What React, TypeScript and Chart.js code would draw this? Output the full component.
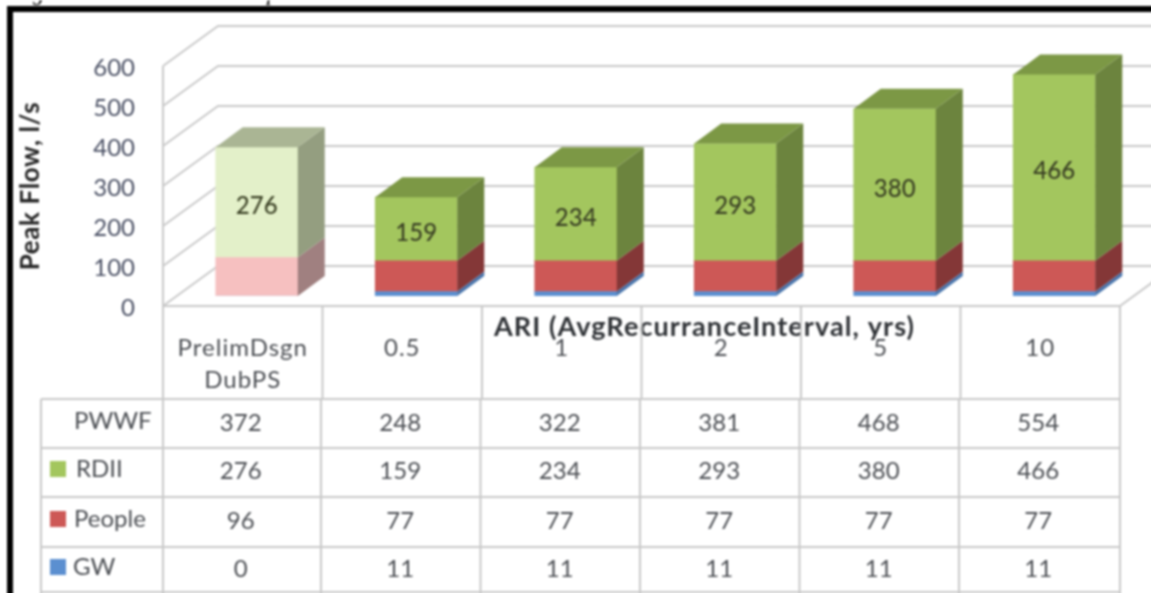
import React, { useEffect, useRef } from "react";
import { Chart, registerables } from "chart.js";

Chart.register(...registerables);

const categories: (string | string[])[] = [["PrelimDsgn", "DubPS"], "0.5", "1", "2", "5", "10"];
const pwwf = [372, 248, 322, 381, 468, 554];
const rdii = [276, 159, 234, 293, 380, 466];
const people = [96, 77, 77, 77, 77, 77];
const gw = [0, 11, 11, 11, 11, 11];
const yAxisTitle = "Peak Flow, l/s";
const xAxisTitle = "ARI (AvgRecurranceInterval, yrs)";

const FONT = 'Lato, sans-serif';
const GRID = "#c9c9c9";
const TEXT = "#4c4f54";
// the canvas overhangs the page by this much so the soft-focus filter does not fade its edges
const BLEED = 4;

const green = { front: "#a3c65e", top: "#7c9845", side: "#6c843e" };
const red = { front: "#cd5856", top: "#9c4341", side: "#843737" };
const blue = { front: "#5b8fd0", top: "#4a76ad", side: "#4a76ad" };
const greenFaded = { front: "#e3f0c9", top: "#aab594", side: "#949e80" };
const redFaded = { front: "#f6c0c0", top: "#b89090", side: "#a08080" };
const blueFaded = { front: "#c0d4ee", top: "#a0b0c4", side: "#a0b0c4" };

const DEPTH_X = 27;
const DEPTH_Y = 20;

const threeD = {
  id: "threeD",
  beforeDraw(chart: any) {
    const { ctx, canvas } = chart;
    const xs = chart.scales.x;
    const ys = chart.scales.y;
    if (!ys.__wrapped) {
      ys.__wrapped = true;
      const shift = (s: any, name: string, dx: number, dy: number, spacing: string) => {
        const orig = s[name].bind(s);
        s[name] = (a: any) => {
          s.ctx.save();
          s.ctx.translate(dx, dy);
          s.ctx.letterSpacing = spacing;
          orig(a);
          s.ctx.restore();
        };
      };
      shift(ys, "drawLabels", 0, 12, "0px");
      shift(ys, "drawTitle", 0, 10, "0.6px");
      shift(xs, "drawLabels", -14, 0, "1px");
      shift(xs, "drawTitle", 49, 0, "1.1px");
    }
    ctx.save();
    ctx.fillStyle = "#fff";
    ctx.fillRect(0, 0, canvas.width, canvas.height);
    // frame and the bottoms of the cut-off caption above it
    ctx.fillStyle = "#000";
    ctx.fillRect(7, 6, 1148, 6);
    ctx.fillRect(7, 6, 6, 591);
    ctx.font = 'italic 22px "Liberation Serif", serif';
    ctx.textBaseline = "alphabetic";
    ctx.textAlign = "left";
    ctx.fillText("g", 33, 0);
    ctx.fillText("p", 267, 0);
    ctx.restore();
  },
  beforeDatasetsDraw(chart: any) {
    const { ctx, chartArea } = chart;
    const ys = chart.scales.y;
    const xs = chart.scales.x;
    const dxFront = -14;
    const dyFront = 10;
    const dxBack = 41;
    const dyBack = -30;
    const left = chartArea.left;
    ctx.save();
    ctx.strokeStyle = GRID;
    ctx.lineWidth = 2;
    ctx.beginPath();
    ys.ticks.forEach((t: any) => {
      const y = ys.getPixelForValue(t.value);
      ctx.moveTo(left + dxFront, y + dyFront);
      ctx.lineTo(left + dxBack, y + dyBack);
      ctx.lineTo(chart.width, y + dyBack);
    });
    const y0 = ys.getPixelForValue(0);
    const yTop = ys.getPixelForValue(600);
    ctx.moveTo(left + dxFront, yTop + dyFront);
    ctx.lineTo(left + dxFront, y0 + dyFront);
    ctx.lineTo(chartArea.right + dxFront, y0 + dyFront);
    ctx.lineTo(chartArea.right + dxBack, y0 + dyBack);
    ctx.stroke();

    // table grid
    const band = (chartArea.right - chartArea.left) / categories.length;
    const colEdge = (i: number) => xs.getPixelForTick(0) - band / 2 + dxFront + i * band;
    const rowYs = [399, 448, 497, 547, 592];
    const tableLeft = 41;
    ctx.beginPath();
    rowYs.forEach((y) => {
      ctx.moveTo(tableLeft, y);
      ctx.lineTo(colEdge(categories.length), y);
    });
    ctx.moveTo(tableLeft, rowYs[0]);
    ctx.lineTo(tableLeft, 597);
    for (let i = 0; i <= categories.length; i++) {
      ctx.moveTo(colEdge(i), y0 + dyFront);
      ctx.lineTo(colEdge(i), 399);
      ctx.moveTo(colEdge(i) - (i > 0 && i < categories.length ? 1.5 : 0), 399);
      ctx.lineTo(colEdge(i) - (i > 0 && i < categories.length ? 1.5 : 0), 597);
    }
    ctx.stroke();
    ctx.restore();
  },
  afterDatasetsDraw(chart: any) {
    const { ctx } = chart;
    ctx.save();
    chart.data.datasets.forEach((ds: any, di: number) => {
      const meta = chart.getDatasetMeta(di);
      meta.data.forEach((bar: any, i: number) => {
        const pal = ds.faces[i];
        const right = bar.x + bar.width / 2;
        const left = bar.x - bar.width / 2;
        if (bar.base - bar.y < 0.5) return;
        ctx.fillStyle = pal.side;
        ctx.beginPath();
        ctx.moveTo(right, bar.y);
        ctx.lineTo(right + DEPTH_X, bar.y - DEPTH_Y);
        ctx.lineTo(right + DEPTH_X, bar.base - DEPTH_Y);
        ctx.lineTo(right, bar.base);
        ctx.closePath();
        ctx.fill();
        if (di === chart.data.datasets.length - 1) {
          ctx.fillStyle = pal.top;
          ctx.beginPath();
          ctx.moveTo(left, bar.y);
          ctx.lineTo(left + DEPTH_X, bar.y - DEPTH_Y);
          ctx.lineTo(right + DEPTH_X, bar.y - DEPTH_Y);
          ctx.lineTo(right, bar.y);
          ctx.closePath();
          ctx.fill();
        }
      });
    });
    // value labels inside the RDII segments
    const rdiiIndex = chart.data.datasets.findIndex((d: any) => d.label === "RDII");
    const rdiiMeta = chart.getDatasetMeta(rdiiIndex);
    ctx.font = `500 24px ${FONT}`;
    ctx.fillStyle = "#3a4024";
    ctx.textAlign = "center";
    ctx.textBaseline = "middle";
    rdiiMeta.data.forEach((bar: any, i: number) => {
      ctx.fillText(String(rdii[i]), bar.x, (bar.y + bar.base) / 2 + 4);
    });

    // data table text
    const xs = chart.scales.x;
    const rows: { label: string; values: number[]; y: number; labelX: number; swatch?: string }[] = [
      { label: "PWWF", values: pwwf, y: 421, labelX: 74 },
      { label: "RDII", values: rdii, y: 469, labelX: 76, swatch: green.front },
      { label: "People", values: people, y: 519, labelX: 74, swatch: red.front },
      { label: "GW", values: gw, y: 567, labelX: 73, swatch: blue.front },
    ];
    ctx.font = `24px ${FONT}`;
    rows.forEach((r) => {
      ctx.textAlign = "left";
      ctx.fillStyle = TEXT;
      ctx.fillText(r.label, r.labelX, r.y);
      if (r.swatch) {
        ctx.fillStyle = r.swatch;
        ctx.fillRect(50, r.y - 8, 16, 16);
      }
      ctx.textAlign = "center";
      ctx.fillStyle = TEXT;
      r.values.forEach((v, i) => {
        ctx.fillText(String(v), xs.getPixelForTick(i) - 16, r.y + 2);
      });
    });
    ctx.restore();
  },
};

export default function App() {
  const ref = useRef<HTMLCanvasElement>(null);
  useEffect(() => {
    const chart = new Chart(ref.current as HTMLCanvasElement, {
      type: "bar",
      data: {
        labels: categories as any,
        datasets: [
          { label: "GW", data: gw, backgroundColor: [blueFaded, blue, blue, blue, blue, blue].map((c) => c.front), faces: [blueFaded, blue, blue, blue, blue, blue] },
          { label: "People", data: people, backgroundColor: [redFaded, red, red, red, red, red].map((c) => c.front), faces: [redFaded, red, red, red, red, red] },
          { label: "RDII", data: rdii, backgroundColor: [greenFaded, green, green, green, green, green].map((c) => c.front), faces: [greenFaded, green, green, green, green, green] },
        ] as any,
      },
      options: {
        responsive: false,
        animation: false,
        layout: { padding: { left: 0, right: 17 + BLEED, top: 56, bottom: 0 } },
        plugins: { legend: { display: false }, tooltip: { enabled: false } },
        datasets: { bar: { barThickness: 82 } },
        scales: {
          x: {
            stacked: true,
            afterFit: (s: any) => { s.height = 297 + BLEED; },
            grid: { display: false },
            border: { display: false },
            ticks: { padding: 28, maxRotation: 0, autoSkip: false, color: TEXT, font: { family: FONT, size: 24, lineHeight: 1.35 } },
            title: { display: true, text: xAxisTitle, color: "#2f3236", padding: { top: 0, bottom: 254 }, font: { family: FONT, size: 27, weight: "bold", lineHeight: 1.2 } },
          },
          y: {
            stacked: true,
            min: 0,
            max: 600,
            afterFit: (s: any) => { s.width = 177; },
            grid: { display: false },
            border: { display: false },
            ticks: { stepSize: 100, padding: 34, color: "#4a5064", font: { family: FONT, size: 24 } },
            title: { display: true, text: yAxisTitle, color: "#262626", padding: { top: 15, bottom: 0 }, font: { family: FONT, size: 26, weight: "bold", lineHeight: 1.2 } },
          },
        },
      } as any,
      plugins: [threeD],
    });
    return () => chart.destroy();
  }, []);
  return (
    <canvas
      ref={ref}
      width={1151 + BLEED}
      height={593 + BLEED}
      style={{ position: "fixed", left: 0, top: 0, width: 1151 + BLEED, height: 593 + BLEED, filter: "blur(0.8px)" }}
    />
  );
}
